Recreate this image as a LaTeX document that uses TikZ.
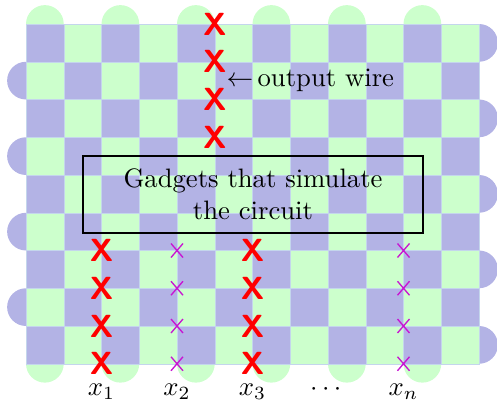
\documentclass[tikz,border=0pt]{standalone}
\usepackage{amsmath}
\usetikzlibrary{calc}
\definecolor{cgreen}{RGB}{204,255,204}
\definecolor{cpurple}{RGB}{179,179,229}
\definecolor{cedge}{RGB}{196,214,236}
\definecolor{cmag}{RGB}{200,20,210}
\begin{document}
\begin{tikzpicture}[x=0.375pt,y=-0.375pt,
  cellline/.style={draw=cedge,line width=0.15pt},
  bigx/.style={text=red,font=\large\sffamily\bfseries,inner sep=0pt},
  smallx/.style={draw=cmag,line width=0.5pt},
  lbl/.style={inner sep=0pt}]
\useasboundingbox (0,0) rectangle (497,403);
% bumps (drawn first, cells cover half)
\foreach \k in {0,...,5}{
  \fill[cgreen] ({26+(2*\k+0.5)*37.75},24) circle[radius=7.078pt];
  \fill[cgreen] ({26+(2*\k+0.5)*37.75},363.75) circle[radius=7.078pt];
}
\foreach \r in {1,3,5,7}{
  \fill[cpurple] (26,{24+(\r+0.5)*37.75}) circle[radius=7.078pt];
}
\foreach \r in {0,2,4,6,8}{
  \fill[cpurple] (479,{24+(\r+0.5)*37.75}) circle[radius=7.078pt];
}
% checkerboard
\foreach \r in {0,...,8}{
  \foreach \c in {0,...,11}{
    \pgfmathtruncatemacro{\p}{mod(\r+\c,2)}
    \ifnum\p=0 \def\col{cpurple}\else\def\col{cgreen}\fi
    \fill[\col,cellline] ({26+\c*37.75},{24+\r*37.75}) rectangle ++(37.75,37.75);
  }
}
% output wire X marks (column line 5, row lines 0..3)
\foreach \r [count=\i] in {0,1,2,3}{
  \node[bigx] (o\i) at (214.75,{24+\r*37.75}) {X};
}
\node[lbl,anchor=west] (ow) at (226,80.6) {$\leftarrow$\,output wire};
% gadget box
\node[draw=black,line width=0.8pt,minimum width=127.5pt,minimum height=28.9pt,
  inner sep=0pt,align=center] (box) at (253,194.5) {Gadgets that simulate\\the circuit};
% input X marks
\foreach \r [count=\i] in {6,7,8,9}{
  \node[bigx] (a\i) at (101.5,{24+\r*37.75}) {X};
  \node[bigx] (c\i) at (252.5,{24+\r*37.75}) {X};
  \coordinate (b\i) at (177,{24+\r*37.75});
  \coordinate (n\i) at (403.5,{24+\r*37.75});
  \draw[smallx] ($(b\i)+(-6,-7)$) -- ($(b\i)+(6,7)$) ($(b\i)+(-6,7)$) -- ($(b\i)+(6,-7)$);
  \draw[smallx] ($(n\i)+(-6,-7)$) -- ($(n\i)+(6,7)$) ($(n\i)+(-6,7)$) -- ($(n\i)+(6,-7)$);
}
% labels
\node[lbl,anchor=base] (l1) at (101.5,395.5) {$x_1$};
\node[lbl,anchor=base] (l2) at (177,395.5) {$x_2$};
\node[lbl,anchor=base] (l3) at (252.5,395.5) {$x_3$};
\node[lbl,anchor=base] (ld) at (328,395.5) {$\cdots$};
\node[lbl,anchor=base] (ln) at (403.5,395.5) {$x_n$};
\end{tikzpicture}
\end{document}
